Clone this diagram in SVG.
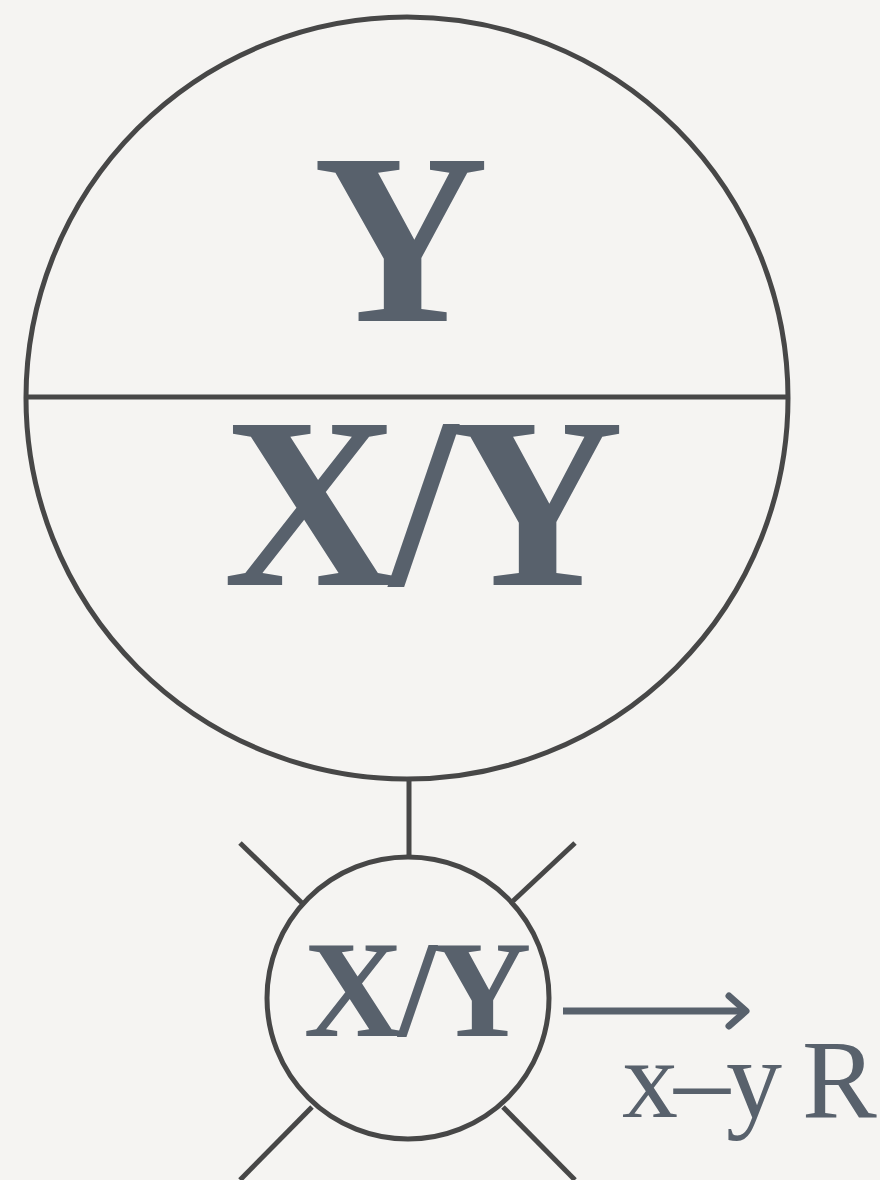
<svg xmlns="http://www.w3.org/2000/svg" width="880" height="1180" viewBox="0 0 880 1180">
<style>
.ln{fill:none;stroke:#474747;stroke-width:5;stroke-linecap:butt}
.big{font-family:"Liberation Serif","Times New Roman",serif;font-weight:bold;fill:#58616c;text-anchor:middle}
.lab{font-family:"Liberation Serif","Times New Roman",serif;fill:#58616c}
</style>
<rect width="880" height="1180" fill="#f5f4f2"/>
<g id="connectors">
<line class="ln" x1="409" y1="779" x2="409" y2="858"/>
<line class="ln" x1="240" y1="843" x2="302" y2="903"/>
<line class="ln" x1="575" y1="843" x2="513" y2="901"/>
<line class="ln" x1="312" y1="1107" x2="240" y2="1180"/>
<line class="ln" x1="503" y1="1107" x2="575" y2="1180"/>
<line x1="563" y1="1011" x2="745" y2="1011" stroke="#58616c" stroke-width="7"/>
<polyline points="729,996 746,1011 729,1026" fill="none" stroke="#58616c" stroke-width="7" stroke-linecap="round" stroke-linejoin="round"/>
</g>
<g id="node-big">
<circle class="ln" cx="407" cy="398" r="381"/>
<line class="ln" x1="27" y1="397" x2="788" y2="397"/>
<text class="big" x="401" y="321" font-size="243">Y</text>
<text class="big" x="419" y="585" font-size="243" letter-spacing="-9">X/Y</text>
</g>
<g id="node-small">
<circle class="ln" cx="408" cy="998" r="141"/>
<text class="big" x="415" y="1036" font-size="138" letter-spacing="-5">X/Y</text>
</g>
<g id="label">
<text class="lab" x="622" y="1117" font-size="112" letter-spacing="-4">x–y R</text>
</g>
</svg>
